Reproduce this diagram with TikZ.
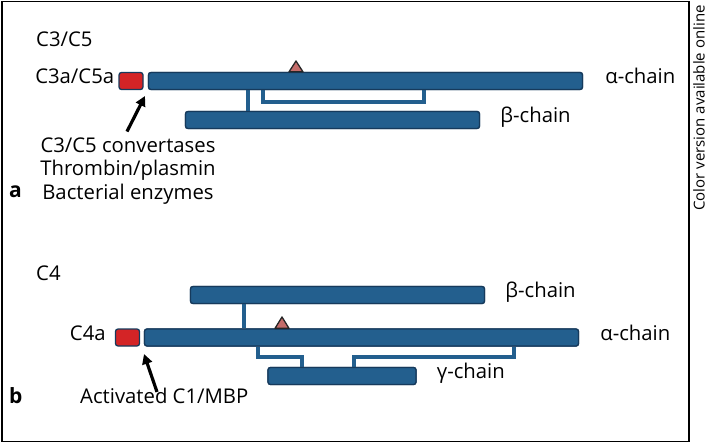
\documentclass[tikz,border=0pt]{standalone}
\usepackage{fontspec}
\setmainfont{Open Sans}
\usetikzlibrary{positioning,arrows.meta}
\definecolor{chainblue}{RGB}{35,95,142}
\definecolor{chainedge}{RGB}{22,58,92}
\definecolor{cutred}{RGB}{212,36,38}
\definecolor{tippink}{RGB}{196,108,106}

\begin{document}
\begin{tikzpicture}[x=1pt, y=-1pt,
    chain/.style={draw=chainedge, fill=chainblue, line width=1.3pt, rounded corners=2.5pt,
      minimum height=17pt, inner sep=0pt},
    ana/.style={draw=chainedge, fill=cutred, line width=1.3pt, rounded corners=2.5pt,
      minimum height=17pt, minimum width=24pt, inner sep=0pt},
    link/.style={draw=chainblue, line width=3.5pt},
    lbl/.style={inner sep=0pt, text height=0.75em, text depth=0.22em, font=\fontsize{20.3}{23.5}\selectfont},
    cut/.style={line width=3.2pt, -{Triangle[length=10pt,width=10pt]}},
    tip/.style={draw=black!85, fill=tippink, line width=1.3pt, line join=round}]
    \useasboundingbox (0,0) rectangle (708,443);
    \draw[line width=1.5pt] (2,1.5) rectangle (689,441.5);
    \node[rotate=90, font=\fontsize{15}{18}\selectfont] (online) at (699,108) {Color version available online};

    % a
    \node[lbl, anchor=west] (nameA) at (36,44) {C3/C5};
    \node[ana] (redA) at (131,81) {};
    \node[chain, minimum width=434pt] (alphaA) at (365.5,81) {};
    \node[chain, minimum width=294pt] (betaA) at (332.5,120) {};
    \draw[link] (248,0 |- alphaA.south) -- (248,0 |- betaA.north);
    \draw[link] (263,0 |- alphaA.south) |- (424,102) -- (424,0 |- alphaA.south);
    \node[chain, minimum width=434pt] at (alphaA) {};
    \node[chain, minimum width=294pt] at (betaA) {};
    \draw[tip] (289,0 |- alphaA.north) -- (296,61) -- (303,0 |- alphaA.north) -- cycle;
    \node[lbl, left=4pt of redA] (fragA) {C3a/C5a};
    \node[lbl, right=22pt of alphaA] (alphaAlbl) {α-chain};
    \node[lbl, right=20pt of betaA] (betaAlbl) {β-chain};
    \node[lbl, align=center, text height=, text depth=] (enzA) at (128,171) {C3/C5 convertases\\Thrombin/plasmin\\Bacterial enzymes};
    \coordinate (cutA) at (145,96);
    \draw[cut] ([yshift=6pt]enzA.north -| 127,0) -- (cutA);
    \node[lbl, font=\fontsize{21}{23.5}\selectfont\bfseries, anchor=west] (panelA) at (9,195) {a};

    % b
    \node[lbl, anchor=west] (nameB) at (36,278) {C4};
    \node[chain, minimum width=294pt] (betaB) at (337.5,295) {};
    \node[ana] (redB) at (127.5,337.5) {};
    \node[chain, minimum width=434pt] (alphaB) at (361.5,337.5) {};
    \node[chain, minimum width=148pt] (gammaB) at (342,376) {};
    \draw[link] (244,0 |- betaB.south) -- (244,0 |- alphaB.north);
    \draw[link] (258,0 |- alphaB.south) |- (302,357) -- (302,0 |- gammaB.north);
    \draw[link] (354,0 |- gammaB.north) |- (514,357) -- (514,0 |- alphaB.south);
    \node[chain, minimum width=294pt] at (betaB) {};
    \node[chain, minimum width=434pt] at (alphaB) {};
    \node[chain, minimum width=148pt] at (gammaB) {};
    \draw[tip] (275,0 |- alphaB.north) -- (282,317) -- (289,0 |- alphaB.north) -- cycle;
    \node[lbl, left=9pt of redB] (fragB) {C4a};
    \node[lbl, right=20pt of betaB] (betaBlbl) {β-chain};
    \node[lbl, right=21pt of alphaB] (alphaBlbl) {α-chain};
    \node[lbl, right=20pt of gammaB] (gammaBlbl) {γ-chain};
    \node[lbl, anchor=west] (enzB) at (80,401) {Activated C1/MBP};
    \coordinate (cutB) at (144,354);
    \draw[cut] ([yshift=4pt]enzB.north -| 157,0) -- (cutB);
    \node[lbl, font=\fontsize{21}{23.5}\selectfont\bfseries, anchor=west] (panelB) at (9,401) {b};
\end{tikzpicture}
\end{document}
